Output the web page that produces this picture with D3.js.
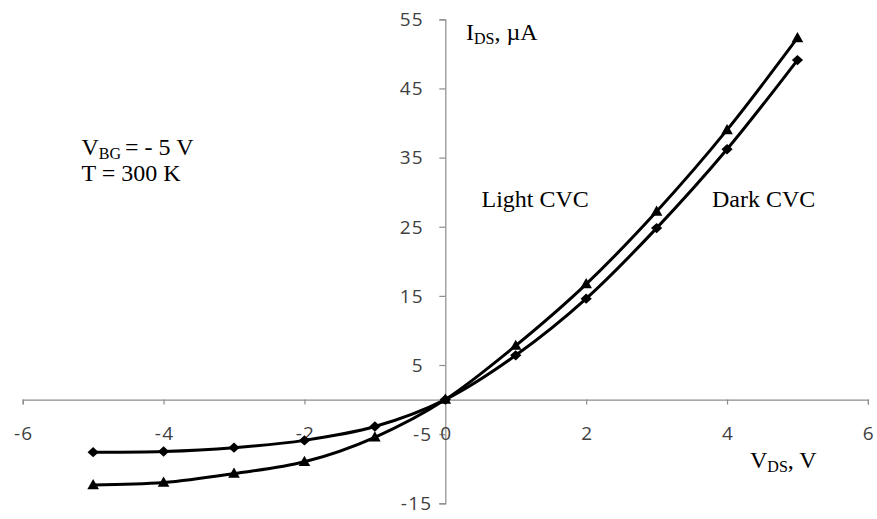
<!DOCTYPE html>
<html>
<head>
<meta charset="utf-8">
<script src="https://cdn.jsdelivr.net/npm/d3@7"></script>
<style>
  html, body { margin: 0; padding: 0; background: #fff; }
  svg { display: block; }
  .tick-label { font-family: "Open Sans", sans-serif; font-size: 19px; fill: #404040; letter-spacing: 1.2px; }
  .note { font-family: "Liberation Serif", "Times New Roman", serif; font-size: 24px; fill: #000; }
</style>
</head>
<body>
<svg id="chart" width="877" height="519"></svg>
<script>
// Drain-source voltage, V
const vds = [-5, -4, -3, -2, -1, 0, 1, 2, 3, 4, 5];
// Drain current without illumination (dark CVC), µA
const darkIds = [-7.6, -7.5, -6.95, -5.9, -3.9, 0, 6.4, 14.6, 24.8, 36.2, 49.1];
// Drain current under illumination (light CVC), µA
const lightIds = [-12.35, -12.0, -10.7, -9.0, -5.45, 0, 7.8, 16.7, 27.2, 39.0, 52.3];

const xTicks = [-6, -4, -2, 0, 2, 4, 6];
const yTicks = [-15, -5, 5, 15, 25, 35, 45, 55];

const svg = d3.select("#chart");

const x = d3.scaleLinear().domain([-6, 6]).range([22.7, 867.9]);
const y = d3.scaleLinear().domain([-15, 55]).range([503.3, 19.3]);

const axisColor = "#8c8c8c";

// Horizontal axis crosses the vertical one at I = 0
const xAxis = svg.append("g").attr("transform", `translate(0,${y(0)})`)
  .call(d3.axisBottom(x).tickValues(xTicks).tickSize(5).tickFormat(""));
xAxis.select(".domain").attr("stroke", axisColor).attr("stroke-width", 1.2);
xAxis.selectAll(".tick line").attr("stroke", axisColor).attr("stroke-width", 1.2);

// Vertical axis at V = 0
const yAxis = svg.append("g").attr("transform", `translate(${x(0)},0)`)
  .call(d3.axisLeft(y).tickValues(yTicks).tickSize(6).tickFormat(""));
yAxis.select(".domain").attr("stroke", axisColor).attr("stroke-width", 1.2);
yAxis.selectAll(".tick line").attr("stroke", axisColor).attr("stroke-width", 1.2);

// Tick labels (positive numbers carry a trailing pad, as in accounting format)
svg.append("g").selectAll("text").data(xTicks).join("text")
  .attr("class", "tick-label")
  .attr("x", d => x(d) + 1)
  .attr("y", y(0) + 40.5)
  .attr("text-anchor", "middle")
  .text(d => d);

svg.append("g").selectAll("text").data(yTicks).join("text")
  .attr("class", "tick-label")
  .attr("x", d => x(0) - (d < 0 ? 13 : 21.5))
  .attr("y", d => y(d))
  .attr("dy", "0.36em")
  .attr("text-anchor", "end")
  .text(d => d);

// Curves
const line = d3.line()
  .x(d => x(d[0]))
  .y(d => y(d[1]))
  .curve(d3.curveCardinal.tension(0));

const darkPts = vds.map((v, i) => [v, darkIds[i]]);
const lightPts = vds.map((v, i) => [v, lightIds[i]]);

[darkPts, lightPts].forEach(pts => {
  svg.append("path")
    .datum(pts)
    .attr("d", line)
    .attr("fill", "none")
    .attr("stroke", "#000")
    .attr("stroke-width", 3)
    .attr("stroke-linejoin", "round");
});

// Markers: diamonds for dark, triangles for light
const diamond = "M0,-5.2L5.6,0L0,5.2L-5.6,0Z";
const triangle = "M0,-6L5.8,4.2L-5.8,4.2Z";

svg.append("g").selectAll("path").data(darkPts).join("path")
  .attr("d", diamond)
  .attr("transform", d => `translate(${x(d[0])},${y(d[1])})`)
  .attr("fill", "#000");

svg.append("g").selectAll("path").data(lightPts).join("path")
  .attr("d", triangle)
  .attr("transform", d => `translate(${x(d[0])},${y(d[1])})`)
  .attr("fill", "#000");

// Axis titles and annotations
function subText(xp, yp, main, sub, rest, gap) {
  const t = svg.append("text").attr("class", "note").attr("x", xp).attr("y", yp);
  t.append("tspan").text(main);
  t.append("tspan").attr("font-size", "16px").attr("dy", 4).text(sub);
  t.append("tspan").attr("dy", -4).attr("dx", gap || 0).text(rest);
  return t;
}

subText(466, 39.5, "I", "DS", ", \u00b5A");
subText(750, 467.5, "V", "DS", ", V");
subText(81.5, 154.5, "V", "BG", "= - 5 V", 4);

svg.append("text").attr("class", "note").attr("x", 81.5).attr("y", 180.5).text("T = 300 K");
svg.append("text").attr("class", "note").attr("x", 481.5).attr("y", 206.5).text("Light CVC");
svg.append("text").attr("class", "note").attr("x", 712).attr("y", 206.5).text("Dark CVC");
</script>
</body>
</html>
